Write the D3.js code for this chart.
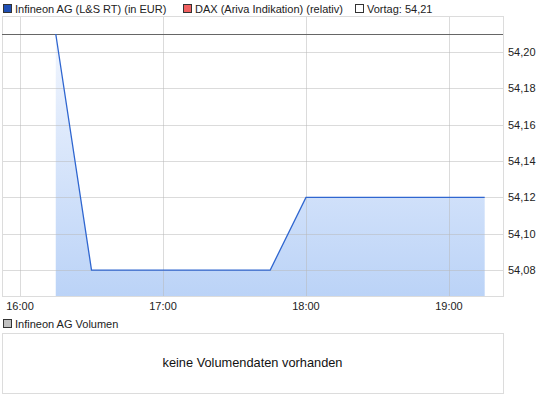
<!DOCTYPE html>
<html>
<head>
<meta charset="utf-8">
<script src="https://cdn.jsdelivr.net/npm/d3@7"></script>
<style>
  body { margin: 0; background: #fff; }
  svg { display: block; font-family: "Liberation Sans", Arial, sans-serif; }
</style>
</head>
<body>
<script>
// price series (time of day, price in EUR)
const times = ["16:15", "16:30", "17:45", "18:00", "19:15"];
const prices = [54.21, 54.08, 54.08, 54.12, 54.12];
const vortag = 54.21;
const yTicks = [54.08, 54.10, 54.12, 54.14, 54.16, 54.18, 54.20];
const xTickLabels = ["16:00", "17:00", "18:00", "19:00"];
const legendLabels = ["Infineon AG (L&S RT) (in EUR)", "DAX (Ariva Indikation) (relativ)", "Vortag: 54,21"];
const legendColors = ["#1f4fb5", "#f06060", "#ffffff"];

const width = 545, height = 401;
const plot = { left: 2, right: 503, top: 16, bottom: 296 };

const parseT = s => { const [h, m] = s.split(":").map(Number); return h + m / 60; };
const data = times.map((t, i) => ({ t: parseT(t), v: prices[i] }));

const svg = d3.select("body").append("svg")
    .attr("width", width)
    .attr("height", height);

const x = d3.scaleLinear()
    .domain([15.874, 19.378])
    .range([plot.left, plot.right]);

const y = d3.scaleLinear()
    .domain([54.0657, 54.2199])
    .range([plot.bottom, plot.top]);

const fmt = v => v.toFixed(2).replace(".", ",");

// gradient for the area fill
const defs = svg.append("defs");
const grad = defs.append("linearGradient")
    .attr("id", "fillGrad")
    .attr("x1", 0).attr("y1", 0).attr("x2", 0).attr("y2", 1);
grad.append("stop").attr("offset", "0%").attr("stop-color", "#f2f6fe");
grad.append("stop").attr("offset", "100%").attr("stop-color", "#bbd3f7");

const g = svg.append("g");

// area
const area = d3.area()
    .x(d => x(d.t))
    .y0(plot.bottom)
    .y1(d => y(d.v));

g.append("path")
    .datum(data)
    .attr("d", area)
    .attr("fill", "url(#fillGrad)");

// grid drawn over the fill, semi transparent
g.append("g")
    .selectAll("line")
    .data(yTicks)
    .join("line")
    .attr("x1", plot.left).attr("x2", plot.right)
    .attr("y1", d => Math.round(y(d)) + 0.5).attr("y2", d => Math.round(y(d)) + 0.5)
    .attr("stroke", "#b8b8b8")
    .attr("stroke-opacity", 0.5);

g.append("g")
    .selectAll("line")
    .data(xTickLabels)
    .join("line")
    .attr("x1", d => Math.round(x(parseT(d))) + 0.5).attr("x2", d => Math.round(x(parseT(d))) + 0.5)
    .attr("y1", plot.top).attr("y2", plot.bottom)
    .attr("stroke", "#b8b8b8")
    .attr("stroke-opacity", 0.5);

// plot frame
svg.append("rect")
    .attr("x", plot.left + 0.5).attr("y", plot.top + 0.5)
    .attr("width", plot.right - plot.left).attr("height", plot.bottom - plot.top)
    .attr("fill", "none")
    .attr("stroke", "#dcdcdc");

// Vortag line
svg.append("line")
    .attr("x1", plot.left).attr("x2", plot.right)
    .attr("y1", Math.round(y(vortag)) + 0.5).attr("y2", Math.round(y(vortag)) + 0.5)
    .attr("stroke", "#666")
    .attr("stroke-width", 1);

// price line
const line = d3.line()
    .x(d => x(d.t))
    .y(d => y(d.v));

svg.append("path")
    .datum(data)
    .attr("d", line)
    .attr("fill", "none")
    .attr("stroke", "#2f66d0")
    .attr("stroke-width", 1.3);

// y labels
svg.append("g")
    .selectAll("text")
    .data(yTicks)
    .join("text")
    .attr("x", plot.right + 5)
    .attr("y", d => y(d) + 4)
    .attr("font-size", 11)
    .attr("fill", "#222")
    .text(fmt);

// x labels
svg.append("g")
    .selectAll("text")
    .data(xTickLabels)
    .join("text")
    .attr("x", d => x(parseT(d)))
    .attr("y", plot.bottom + 14)
    .attr("text-anchor", "middle")
    .attr("font-size", 11)
    .attr("fill", "#222")
    .text(d => d);

// legend
const legendX = [3, 183, 355];
const leg = svg.append("g")
    .selectAll("g")
    .data(legendLabels)
    .join("g")
    .attr("transform", (d, i) => `translate(${legendX[i]},0)`);

leg.append("rect")
    .attr("x", 0.5).attr("y", 4.5)
    .attr("width", 8).attr("height", 8)
    .attr("fill", (d, i) => legendColors[i])
    .attr("stroke", "#333");

leg.append("text")
    .attr("x", 12)
    .attr("y", 12.5)
    .attr("font-size", 11)
    .attr("fill", "#222")
    .text(d => d);

// volume panel
const vol = svg.append("g");
vol.append("rect")
    .attr("x", 3.5).attr("y", 319.5)
    .attr("width", 8).attr("height", 8)
    .attr("fill", "#c0c0c0")
    .attr("stroke", "#333");
vol.append("text")
    .attr("x", 15).attr("y", 327.5)
    .attr("font-size", 11)
    .attr("fill", "#222")
    .text("Infineon AG Volumen");

vol.append("rect")
    .attr("x", plot.left + 0.5).attr("y", 333.5)
    .attr("width", plot.right - plot.left).attr("height", 60)
    .attr("fill", "none")
    .attr("stroke", "#dcdcdc");

vol.append("text")
    .attr("x", (plot.left + plot.right) / 2)
    .attr("y", 367)
    .attr("text-anchor", "middle")
    .attr("font-size", 12.8)
    .attr("fill", "#111")
    .text("keine Volumendaten vorhanden");
</script>
</body>
</html>
